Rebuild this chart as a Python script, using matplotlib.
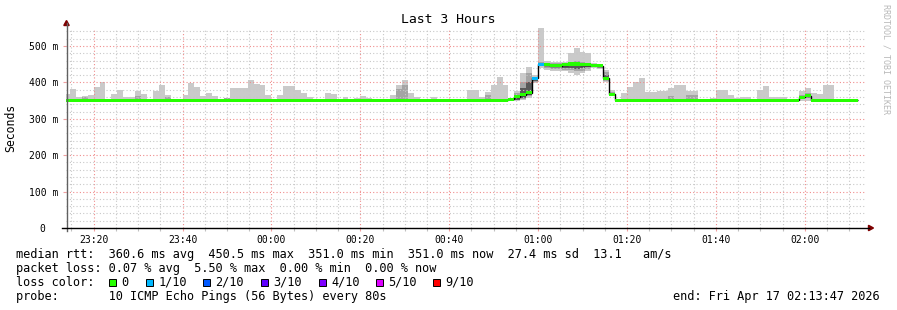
import matplotlib
matplotlib.use("Agg")
import matplotlib.pyplot as plt
import numpy as np
from matplotlib.patches import Rectangle, Polygon
from matplotlib.lines import Line2D
from matplotlib.transforms import ScaledTranslation

plt.rcParams['font.family'] = ['DejaVu Sans Mono']

# ---------------- data ----------------
TITLE = "Last 3 Hours"
Y_LABEL = "Seconds"
WATERMARK = "RRDTOOL / TOBI OETIKER"
STEP_SECONDS = 80
FIRST_STEP = "23:13:20"
WINDOW_START = "23:13:47"
WINDOW_END = "02:13:47"

median_ms = [
    351, 351, 351, 351, 351, 351, 351, 351, 351, 351,
    351, 351, 351, 351, 351, 351, 351, 351, 351, 351,
    351, 351, 351, 351, 351, 351, 351, 351, 351, 351,
    351, 351, 351, 351, 351, 351, 351, 351, 351, 351,
    351, 351, 351, 351, 351, 351, 351, 351, 351, 351,
    351, 351, 351, 351, 351, 351, 351, 351, 351, 351,
    351, 351, 351, 351, 351, 351, 351, 351, 351, 351,
    351, 351, 351, 351, 351, 354, 360, 366, 372, 412,
    450, 449, 446, 446, 449, 450.5, 450.5, 449, 449, 447,
    446, 412, 368, 351, 351, 351, 351, 351, 351, 351,
    351, 351, 351, 351, 351, 351, 351, 351, 351, 351,
    351, 351, 351, 351, 351, 351, 351, 351, 351, 351,
    351, 351, 351, 351, 359, 363, 351, 351, 351, 351,
    351, 351, 351, 351,
]

smoke_max_ms = [
    368, 382, 360, 363, 365, 387, 401, 351, 368, 379,
    360, 360, 376, 368, 351, 376, 393, 365, 351, 351,
    365, 398, 387, 362, 372, 362, 351, 357, 385, 385,
    385, 407, 396, 393, 365, 351, 365, 390, 390, 379,
    372, 361, 351, 351, 372, 368, 351, 360, 351, 357,
    363, 357, 351, 351, 351, 365, 393, 407, 370, 360,
    351, 351, 360, 351, 351, 351, 351, 351, 378, 378,
    360, 374, 393, 415, 393, 358, 376, 426, 442, 420,
    549, 459, 457, 455, 455, 480, 495, 483, 480, 454,
    450, 434, 379, 351, 371, 387, 402, 412, 374, 374,
    377, 377, 385, 393, 393, 377, 377, 351, 351, 358,
    379, 379, 365, 358, 360, 360, 351, 379, 390, 360,
    360, 360, 351, 351, 376, 385, 371, 368, 393, 393,
    351, 351, 351, 351,
]

smoke_min_ms = [
    349, 349, 349, 349, 349, 349, 349, 349, 349, 349,
    349, 349, 349, 349, 349, 349, 349, 349, 349, 349,
    349, 349, 349, 349, 349, 349, 349, 349, 349, 349,
    349, 349, 349, 349, 349, 349, 349, 349, 349, 349,
    349, 349, 349, 349, 349, 349, 349, 349, 349, 349,
    349, 349, 349, 349, 349, 349, 349, 349, 349, 349,
    349, 349, 349, 349, 349, 349, 349, 349, 349, 349,
    349, 349, 349, 349, 349, 350, 350, 352, 358, 398,
    440, 434, 432, 430, 430, 427, 420, 425, 432, 440,
    437, 402, 362, 349, 349, 349, 349, 349, 349, 349,
    349, 349, 349, 349, 349, 349, 349, 349, 349, 349,
    349, 349, 349, 349, 349, 349, 349, 349, 349, 349,
    349, 349, 349, 349, 349, 349, 349, 349, 349, 349,
    349, 349, 349, 349,
]

# inner smoke bands: step index -> (low ms, high ms)
mid_smoke_ms = {
    3: (351, 360), 12: (351, 363), 17: (351, 361), 27: (351, 356),
    56: (351, 381), 57: (351, 392), 71: (351, 365),
    76: (352, 370), 77: (355, 400), 78: (362, 425), 79: (402, 416),
    80: (444, 456), 81: (440, 454), 82: (438, 452), 83: (437, 452),
    84: (435, 453), 85: (434, 456), 86: (430, 460), 87: (432, 456),
    88: (436, 454), 89: (442, 451), 90: (440, 449), 91: (405, 428),
    92: (364, 374), 102: (351, 363), 105: (351, 365), 106: (351, 365),
    124: (355, 366), 125: (358, 372),
}
dark_smoke_ms = {
    75: (351, 356), 76: (352, 362), 77: (357, 385), 78: (365, 400),
    79: (405, 412), 80: (446, 452), 82: (442, 449), 83: (441, 449),
    84: (440, 450), 85: (440, 452), 86: (438, 452), 87: (440, 452),
    88: (442, 451), 90: (442, 447), 91: (408, 420), 125: (360, 366),
}

# packet loss per step (tenths of pings lost)
loss_tenths = [
    0, 0, 0, 0, 0, 0, 0, 0, 0, 0,
    0, 0, 0, 0, 0, 0, 0, 0, 0, 0,
    0, 0, 0, 0, 0, 0, 0, 0, 0, 0,
    0, 0, 0, 0, 0, 0, 0, 0, 0, 0,
    0, 0, 0, 0, 0, 0, 0, 0, 0, 0,
    0, 0, 0, 0, 0, 0, 0, 0, 0, 0,
    0, 0, 0, 0, 0, 0, 0, 0, 0, 0,
    0, 0, 0, 0, 0, 0, 0, 0, 0, 1,
    1, 0, 0, 0, 0, 0, 0, 0, 0, 0,
    0, 0, 0, 0, 0, 0, 0, 0, 0, 0,
    0, 0, 0, 0, 0, 0, 0, 0, 0, 0,
    0, 0, 0, 0, 0, 0, 0, 0, 0, 0,
    0, 0, 0, 0, 0, 0, 0, 0, 0, 0,
    0, 0, 0, 0,
]

loss_labels = ["0", "1/10", "2/10", "3/10", "4/10", "5/10", "9/10"]
loss_levels = [0, 1, 2, 3, 4, 5, 9]
loss_colors = ["#26ff00", "#00b8ff", "#0059ff", "#5e00ff", "#7e00ff", "#dd00ff", "#ff0000"]

x_tick_labels = ["23:20", "23:40", "00:00", "00:20", "00:40",
                 "01:00", "01:20", "01:40", "02:00"]
y_tick_values_ms = [0, 100, 200, 300, 400, 500]
y_tick_labels = ["0", "100 m", "200 m", "300 m", "400 m", "500 m"]
Y_MAX_MS = 550

legend_rtt = ("median rtt:  360.6 ms avg  450.5 ms max  351.0 ms min  "
              "351.0 ms now  27.4 ms sd  13.1   am/s")
legend_loss = "packet loss: 0.07 % avg  5.50 % max  0.00 % min  0.00 % now"
legend_color_head = "loss color:"
legend_probe = "probe:       10 ICMP Echo Pings (56 Bytes) every 80s"
legend_end = "end: Fri Apr 17 02:13:47 2026"

# ---------------- helpers ----------------
def to_min(s):
    h, m, sec = (int(v) for v in s.split(":"))
    t = h * 60 + m + sec / 60.0
    if h >= 12:
        t -= 1440
    return t

W, H = 897, 310
fig = plt.figure(figsize=(W / 100, H / 100), dpi=100)
fig.patch.set_facecolor("white")

def fx(px):
    return px / W

def fy(py):
    return 1 - py / H

AX_L, AX_R, AX_B = 66, 866, 228
AX_T = AX_B - Y_MAX_MS * 0.364
ax = fig.add_axes([fx(AX_L), fy(AX_B), (AX_R - AX_L) / W, (AX_B - AX_T) / H])

n = len(median_ms)
step_min = STEP_SECONDS / 60.0
edges = to_min(FIRST_STEP) + np.arange(n + 1) * step_min
med = np.array(median_ms, dtype=float)

# outer smoke
ax.stairs(np.array(smoke_max_ms, float), edges, baseline=np.array(smoke_min_ms, float),
          fill=True, color="#cacaca", lw=0, zorder=1, antialiased=False)

def band(d):
    lo = med.copy()
    hi = med.copy()
    for k, (a, b) in d.items():
        lo[k] = a
        hi[k] = b
    return lo, hi

lo, hi = band(mid_smoke_ms)
ax.stairs(hi, edges, baseline=lo, fill=True, color="#a4a4a4", lw=0, zorder=1.2,
          antialiased=False)
lo, hi = band(dark_smoke_ms)
ax.stairs(hi, edges, baseline=lo, fill=True, color="#585858", lw=0, zorder=1.4,
          antialiased=False)

# median: black step line + loss-coloured band
ax.stairs(med, edges, baseline=None, color="#000000", lw=1.0, zorder=4)
HALF = 4.2
col_map = dict(zip(loss_levels, loss_colors))
ax.bar(edges[:-1], 2 * HALF, bottom=med - HALF, width=step_min, align="edge",
       color=[col_map[l] for l in loss_tenths], lw=0, zorder=5, antialiased=False)

# axes limits / ticks
ax.set_xlim(to_min(WINDOW_START), to_min(WINDOW_START) + 180)
ax.set_ylim(0, Y_MAX_MS)
xt = [to_min(s + ":00") for s in x_tick_labels]
ax.set_xticks(xt)
ax.set_xticklabels(x_tick_labels)
ax.set_xticks(np.arange(-45, 135, 5), minor=True)
ax.set_yticks(y_tick_values_ms)
ax.set_yticklabels(y_tick_labels)
ax.set_yticks(np.arange(0, Y_MAX_MS + 1, 20), minor=True)

ax.set_axisbelow(False)
ax.grid(which="minor", color="#c8c8c8", ls=(0, (1, 2)), lw=0.8)
ax.grid(which="major", color="#f08c8c", ls=(0, (1, 2)), lw=0.8)

ax.tick_params(axis="both", which="major", length=2.2, width=0.8, colors="#f0a0a0",
               labelcolor="#000000", labelsize=7.05)
ax.tick_params(axis="y", which="minor", length=0)
ax.tick_params(axis="x", which="minor", length=2, width=0.8, colors="#c0c0c0")
ax.tick_params(axis="x", which="both", pad=2.6)
ax.tick_params(axis="y", which="both", pad=3.2)
for lab in ax.get_yticklabels():
    if lab.get_text() == "0":
        lab.set_transform(lab.get_transform() +
                          ScaledTranslation(-13 / 100, 0, fig.dpi_scale_trans))

for s in ax.spines.values():
    s.set_visible(False)

# axis lines with arrows (drawn in figure pixels)
fig.add_artist(Line2D([fx(AX_L + 0.5), fx(AX_L + 0.5)], [fy(AX_B + 3), fy(23)],
                      color="#606060", lw=1.0))
fig.add_artist(Line2D([fx(AX_L - 4), fx(869)], [fy(AX_B), fy(AX_B)],
                      color="#000000", lw=1.0))
fig.add_artist(Polygon([[fx(AX_L - 2.2), fy(25.5)], [fx(AX_L + 3.2), fy(25.5)],
                        [fx(AX_L + 0.5), fy(20.5)]], closed=True,
                       color="#7f0000", transform=fig.transFigure))
fig.add_artist(Polygon([[fx(868.5), fy(AX_B - 2.7)], [fx(868.5), fy(AX_B + 2.7)],
                        [fx(873.5), fy(AX_B)]], closed=True,
                       color="#7f0000", transform=fig.transFigure))

# texts
fig.text(fx(448), fy(19.5), TITLE, ha="center", va="center", fontsize=9.45)
fig.text(fx(11), fy(127.5), Y_LABEL, ha="center", va="center", rotation=90,
         fontsize=8.3)
fig.text(fx(886), fy(4.5), WATERMARK, ha="center", va="top", rotation=270,
         fontsize=6, color="#b8b8b8")

LF = 8.53
fig.text(fx(16), fy(254.3), legend_rtt, ha="left", va="center", fontsize=LF)
fig.text(fx(16), fy(268.3), legend_loss, ha="left", va="center", fontsize=LF)
fig.text(fx(16), fy(282.3), legend_color_head, ha="left", va="center", fontsize=LF)
sq_left = [109, 146, 203, 261, 318.5, 376, 433]
for xl, lab, c in zip(sq_left, loss_labels, loss_colors):
    fig.add_artist(Rectangle((fx(xl), fy(285.5)), 7 / W, 7 / H, facecolor=c,
                             edgecolor="#000000", lw=0.7, transform=fig.transFigure))
    fig.text(fx(xl + 12.5), fy(282.3), lab, ha="left", va="center", fontsize=LF)
fig.text(fx(16), fy(296.7), legend_probe, ha="left", va="center", fontsize=LF)
fig.text(fx(880), fy(296.7), legend_end, ha="right", va="center", fontsize=LF)

fig.savefig("out.png", dpi=100, facecolor="white")
